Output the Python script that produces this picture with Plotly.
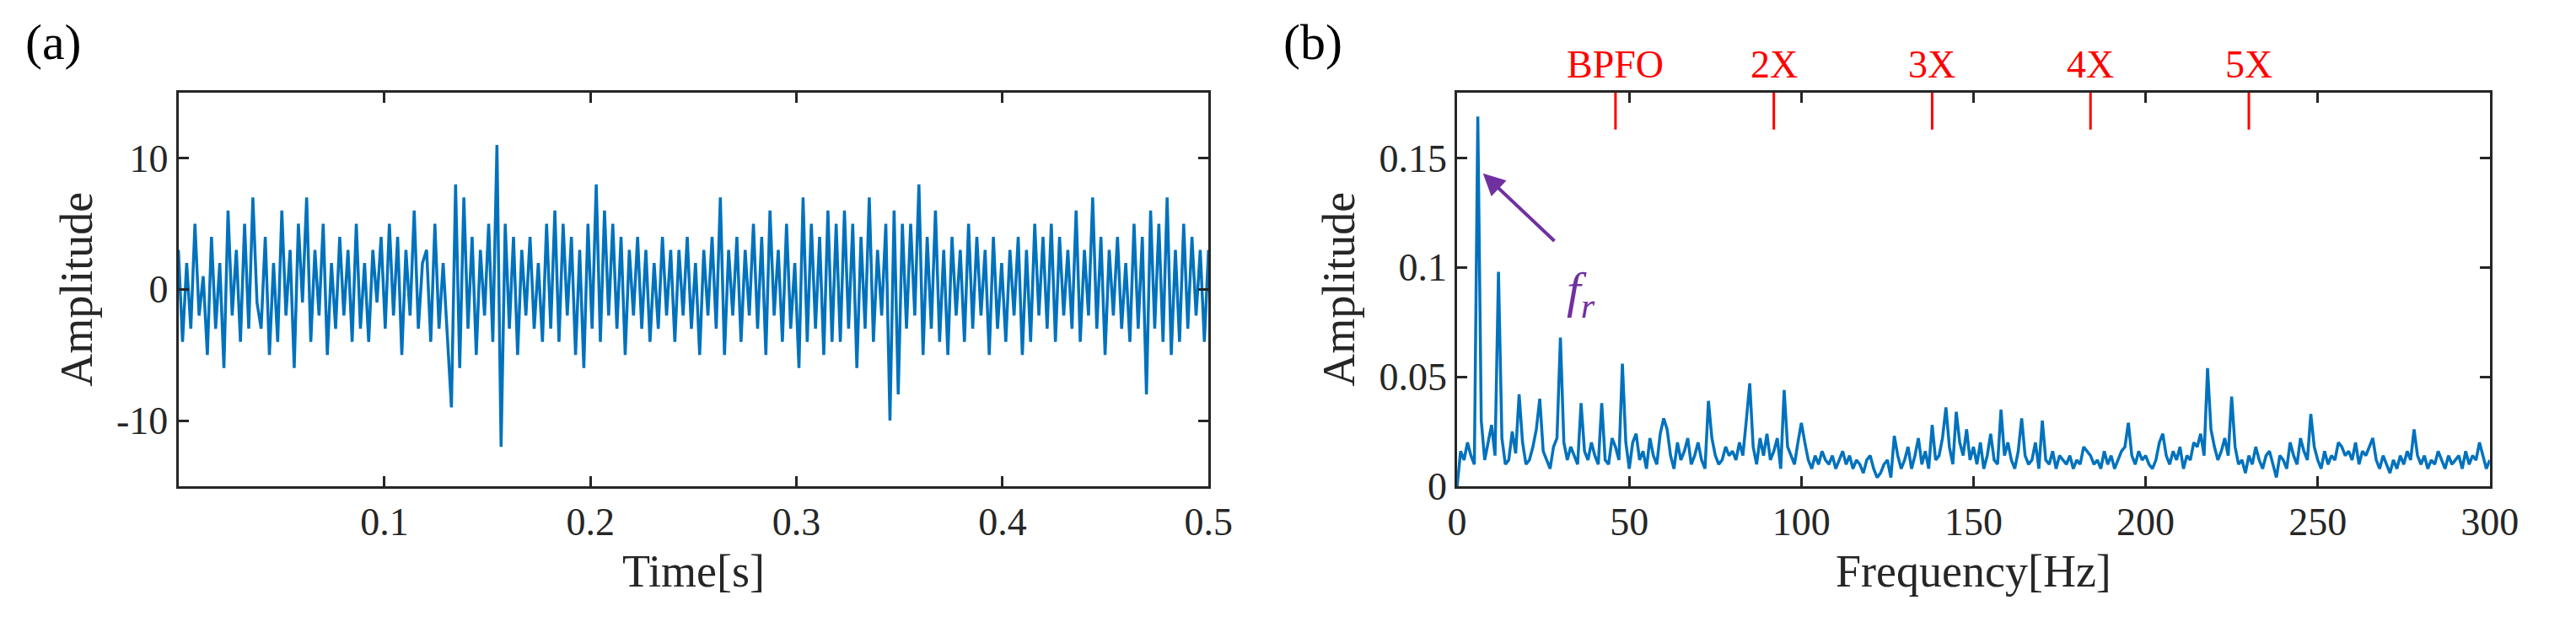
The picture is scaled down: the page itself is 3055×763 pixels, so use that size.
import plotly.graph_objects as go

sig = [3,-4,2,-3,5,-2,1,-5,4,-3,
2,-6,6,-2,3,-4,5,-3,7,-1,
-3,4,-5,2,-4,6,-2,3,-6,5,
-1,7,-4,3,-2,5,-5,2,-3,4,
-2,3,-4,5,-3,2,-4,3,-1,4,
-3,5,-2,4,-5,3,-2,6,-3,2,
3,-4,5,-3,2,-4,-9,8,-6,7,
-3,4,-5,3,-2,5,-4,11,-12,5,
-3,4,-5,3,-2,4,-3,2,-4,5,
-3,6,-4,5,-2,4,-5,3,-6,5,
-3,8,-4,6,-2,5,-3,4,-5,3,
-2,4,-3,3,-4,2,-3,4,-2,3,
-4,3,-2,4,-3,2,-5,3,-2,4,
-3,7,-5,3,-2,4,-4,3,-2,5,
-3,4,-5,6,-2,3,-4,5,-3,2,
-6,7,-4,5,-3,4,-5,6,-4,5,
-4,6,-3,5,-6,4,-3,7,-4,3,
-2,5,-10,6,-8,5,-3,5,-2,8,
-5,4,-3,6,-4,3,-5,4,-2,3,
-4,5,-3,4,-2,3,-5,4,-3,2,
-4,3,-2,4,-5,3,-4,5,-2,4,
-3,5,-4,4,-2,3,-3,6,-4,3,
-2,7,-3,4,-5,3,-2,4,-3,2,
-4,5,-3,4,-8,6,-3,5,-4,7,
-5,3,-4,5,-3,4,-2,3,-4,3]
t = [i*0.5/(len(sig)-1) for i in range(len(sig))]

spec_milli = [0,16,12,20,14,10,169,30,12,20,
28,14,98,22,10,12,25,15,42,20,
10,12,18,26,40,16,12,8,18,22,
68,20,12,18,14,10,38,16,12,20,
14,10,38,12,10,22,18,12,56,20,
8,20,24,12,16,8,22,14,10,24,
31,26,14,8,20,12,16,22,10,14,
20,12,8,39,22,14,10,12,18,14,
16,12,20,14,30,47,18,10,22,14,
24,12,16,22,8,44,18,14,10,20,
29,20,12,8,14,10,16,12,10,14,
8,12,16,10,14,8,12,10,6,12,
14,8,4,6,10,12,4,23,14,8,
12,18,8,14,22,10,16,8,28,12,
14,22,36,18,10,34,20,14,26,12,
18,10,20,8,14,24,12,10,35,14,
20,12,8,16,31,14,10,12,20,8,
30,12,10,16,8,14,12,10,14,8,
12,10,18,16,14,10,12,8,16,10,
14,8,12,16,18,29,14,10,16,12,
14,10,8,12,20,24,14,10,16,12,
18,8,14,12,20,18,24,14,54,26,
18,12,16,22,14,41,18,10,12,6,
14,10,18,12,8,14,16,10,4,14,
12,8,20,14,10,22,16,12,33,18,
12,8,16,10,14,12,20,18,14,16,
12,20,10,16,14,18,22,12,8,14,
10,6,12,8,14,10,16,12,26,14,
10,14,8,12,10,16,12,8,14,10,
12,14,8,16,10,14,12,20,14,8,
12]
spec = [v/1000 for v in spec_milli]
freq = list(range(len(spec)))

marker_freqs = [46, 92, 138, 184, 230]
marker_labels = ["BPFO", "2X", "3X", "4X", "5X"]

BLUE = "#0072BD"
FONT = "Liberation Serif"
DARK = "#262626"
fig = go.Figure()
fig.add_trace(go.Scatter(x=t, y=sig, mode="lines", line=dict(color=BLUE, width=3.5), xaxis="x", yaxis="y", showlegend=False))
fig.add_trace(go.Scatter(x=freq, y=spec, mode="lines", line=dict(color=BLUE, width=3.5), xaxis="x2", yaxis="y2", showlegend=False))

ax = dict(showgrid=False, zeroline=False, showline=True, linecolor=DARK, linewidth=3, mirror="ticks",
          ticks="inside", ticklen=12, tickwidth=3, tickcolor=DARK,
          tickfont=dict(family=FONT, size=46, color=DARK))
tf = dict(family=FONT, size=54, color=DARK)
fig.update_layout(
    width=3055, height=763, margin=dict(l=0, r=0, t=0, b=0),
    plot_bgcolor="white", paper_bgcolor="white",
    font=dict(family=FONT),
    xaxis=dict(ax, domain=[0.064, 0.470], range=[0, 0.5], tickvals=[0.1, 0.2, 0.3, 0.4, 0.5],
               title=dict(text="Time[s]", font=tf, standoff=15), anchor="y"),
    yaxis=dict(ax, domain=[0.228, 0.862], range=[-15, 15], tickvals=[-10, 0, 10], ticktext=["-10", "0", "10"],
               title=dict(text="Amplitude", font=tf, standoff=12), anchor="x"),
    xaxis2=dict(ax, domain=[0.568, 0.975], range=[0, 300], tickvals=[0, 50, 100, 150, 200, 250, 300],
                title=dict(text="Frequency[Hz]", font=tf, standoff=15), anchor="y2"),
    yaxis2=dict(ax, domain=[0.228, 0.862], range=[0, 0.18], tickvals=[0, 0.05, 0.1, 0.15],
                title=dict(text="Amplitude", font=tf, standoff=12), anchor="x2"),
)
for f, lab in zip(marker_freqs, marker_labels):
    fig.add_shape(type="line", xref="x2", yref="y2", x0=f, x1=f, y0=0.163, y1=0.18, line=dict(color="red", width=3))
    fig.add_annotation(xref="x2", yref="paper", x=f, y=0.87, yanchor="bottom", text=lab, showarrow=False,
                       font=dict(family=FONT, size=46, color="red"))
fig.add_annotation(xref="x2", yref="y2", x=7.5, y=0.143, ax=29, ay=0.111, axref="x2", ayref="y2",
                   showarrow=True, arrowhead=2, arrowsize=1.3, arrowwidth=4, arrowcolor="#7030A0", text=" ")
fig.add_annotation(xref="x2", yref="y2", x=36, y=0.088, text="<i>f<sub>r</sub></i>", showarrow=False,
                   font=dict(family=FONT, size=60, color="#7030A0"))
fig.add_annotation(xref="paper", yref="paper", x=0.003, y=0.99, xanchor="left", yanchor="top", text="(a)", showarrow=False,
                   font=dict(family=FONT, size=60, color="black"))
fig.add_annotation(xref="paper", yref="paper", x=0.499, y=0.99, xanchor="left", yanchor="top", text="(b)", showarrow=False,
                   font=dict(family=FONT, size=60, color="black"))
fig.write_html("out.html")
